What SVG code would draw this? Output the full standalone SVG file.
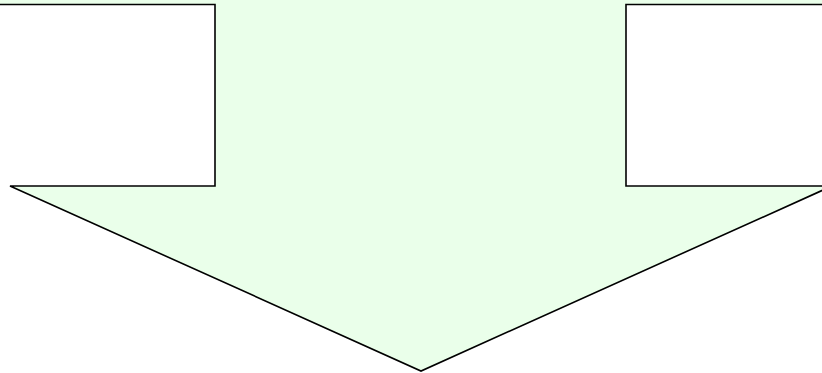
<svg xmlns="http://www.w3.org/2000/svg" width="822" height="373" viewBox="0 0 822 373">
<style>
.fill{fill:#EAFFEA;stroke:none}
.hole{fill:#FFFFFF;stroke:none}
.edge{fill:none;stroke:#000000;stroke-width:1.6;stroke-linejoin:miter}
</style>
<rect x="0" y="0" width="822" height="373" fill="#FFFFFF"/>
<g id="arrow">
<polygon class="fill" points="0,0 822,0 822,186 832,186 421,371 10,186 0,186"/>
<rect class="hole" x="0" y="4.5" width="215" height="181.5"/>
<rect class="hole" x="626" y="4.5" width="196" height="181.5"/>
<polyline class="edge" points="-2,4.5 215,4.5 215,186 10,186 421,371 832,186 626,186 626,4.5 824,4.5"/>
</g>
</svg>
